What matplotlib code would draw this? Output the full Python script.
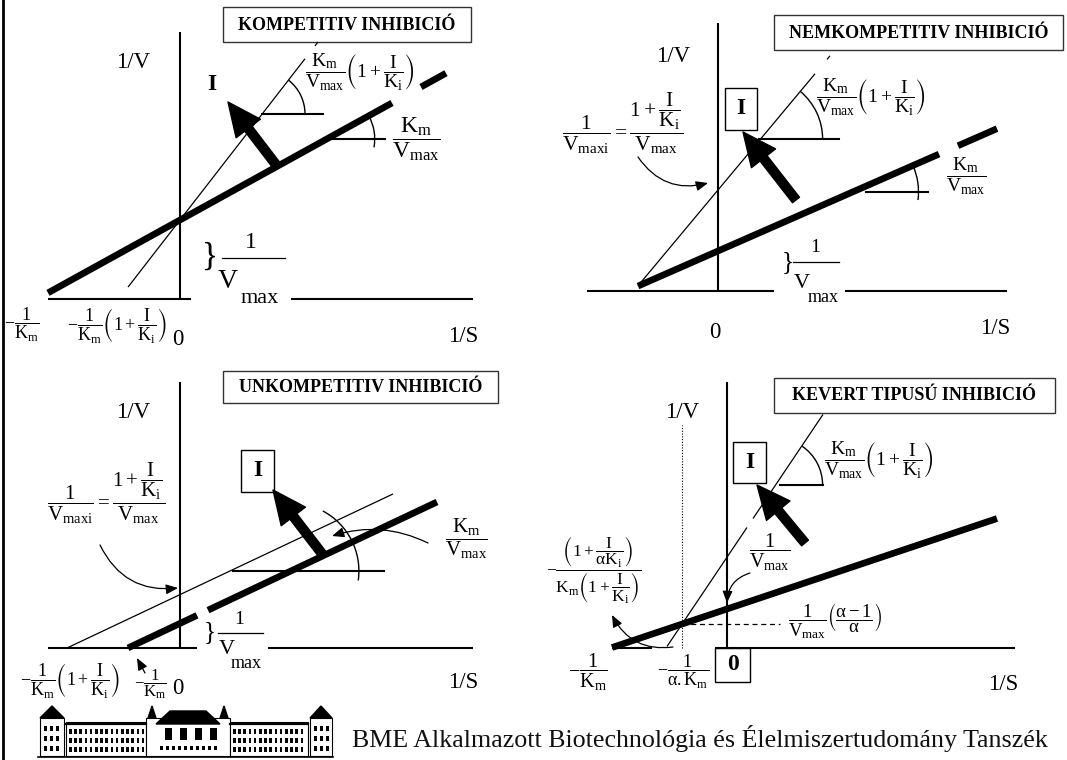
import numpy as np
import matplotlib
matplotlib.use("Agg")
import matplotlib.pyplot as plt
from matplotlib.patches import Rectangle, Arc, Polygon

plt.rcParams['font.family'] = ['Liberation Serif', 'DejaVu Serif']
plt.rcParams['mathtext.fontset'] = 'custom'
plt.rcParams['mathtext.rm'] = 'Liberation Serif'
plt.rcParams['mathtext.it'] = 'Liberation Serif:italic'
plt.rcParams['mathtext.bf'] = 'Liberation Serif:bold'
plt.rcParams['mathtext.fallback'] = 'stix'
plt.rcParams['mathtext.default'] = 'regular'

# ---------------- data ----------------
TITLES = ["KOMPETITIV INHIBICIÓ", "NEMKOMPETITIV INHIBICIÓ",
          "UNKOMPETITIV INHIBICIÓ", "KEVERT TIPUSÚ INHIBICIÓ"]
Y_LABEL = "1/V"
X_LABEL = "1/S"
FOOTER = "BME Alkalmazott Biotechnológia és Élelmiszertudomány Tanszék"

# Lineweaver-Burk lines: [uninhibited (thick), inhibited (thin)]
COMP_SLOPE = [0.552, 1.29]
COMP_ICPT = [0.79, 0.79]
NONCOMP_SLOPE = [0.4385, 1.198]
NONCOMP_ICPT = [0.40, 1.01]
UNCOMP_SLOPE = [0.4725, 0.4725]
UNCOMP_ICPT = [0.246, 0.534]
MIXED_SLOPE = [0.335, 1.487]
MIXED_ICPT = [0.39, 0.908]

# drawn 1/S ranges of each line (gaps where labels cover it)
COMP_SEGS = [[(-1.32, 2.12), (2.41, 2.66)], [(-0.52, 1.25), (1.35, 1.38)]]
NONCOMP_SEGS = [[(-0.80, 2.21), (2.40, 2.79)], [(-0.80, 0.97), (1.09, 1.12)]]
UNCOMP_SEGS = [[(-0.52, 0.17), (0.28, 2.57)], [(-1.13, 2.13)]]
MIXED_SEGS = [[(-1.15, 2.70)], [(-0.60, 0.20), (0.26, 0.96)]]

# ---------------- figure ----------------
W, H = 1067, 760
fig = plt.figure(figsize=(W / 100, H / 100), dpi=100)

THICK = 4.8
THIN = 0.9
AXW = 1.5


def panel(ox, oy):
    ax = fig.add_axes([0, 0, 1, 1])
    ax.set_xlim(-ox / 100, (W - ox) / 100)
    ax.set_ylim(-(H - oy) / 100, oy / 100)
    ax.axis('off')
    ax.patch.set_alpha(0)
    return ax


def T(ax, x, y, s, size=16.5, weight='normal', ha='center', va='center'):
    ax.text(x, y, s, fontsize=size, fontweight=weight, ha=ha, va=va, color='k')


def lines(ax, slopes, icpts, segs):
    for k, (m, b, sg) in enumerate(zip(slopes, icpts, segs)):
        for x0, x1 in sg:
            xs = np.array([x0, x1])
            ax.plot(xs, b + m * xs, color='k', lw=THICK if k == 0 else THIN,
                    solid_capstyle='butt')


def axes_lines(ax, ytop, xsegs):
    ax.plot([0, 0], [0, ytop], color='k', lw=AXW, solid_capstyle='butt')
    for x0, x1 in xsegs:
        ax.plot([x0, x1], [0, 0], color='k', lw=AXW, solid_capstyle='butt')


def title_box(ax, x0, x1, y0, y1, s):
    ax.add_patch(Rectangle((x0, y0), x1 - x0, y1 - y0, fill=False, ec='#333333', lw=1.0))
    T(ax, (x0 + x1) / 2, (y0 + y1) / 2 - 0.005, s, size=13, weight='bold')


def angle_marker(ax, cx, cy, hx0, hx1, r, t1, t2):
    ax.plot([hx0, hx1], [cy, cy], color='k', lw=1.5)
    ax.add_patch(Arc((cx, cy), 2 * r, 2 * r, theta1=t1, theta2=t2, lw=1.0, color='k'))


def big_arrow(ax, start, tip):
    ax.annotate('', xy=tip, xytext=start,
                arrowprops=dict(arrowstyle='simple,head_length=0.6,head_width=0.55,tail_width=0.16',
                                mutation_scale=40, fc='k', ec='k', shrinkA=0, shrinkB=0))


def curved_arrow(ax, start, end, rad):
    ax.annotate('', xy=end, xytext=start,
                arrowprops=dict(arrowstyle='-|>,head_length=0.6,head_width=0.25',
                                connectionstyle='arc3,rad=%s' % rad, lw=0.9,
                                color='k', shrinkA=0, shrinkB=0, mutation_scale=12))


def boxed(ax, x0, x1, y0, y1, s):
    ax.add_patch(Rectangle((x0, y0), x1 - x0, y1 - y0, fill=False, ec='k', lw=1.0))
    T(ax, (x0 + x1) / 2, (y0 + y1) / 2, s, size=17, weight='bold')


def brace_frac(ax, bx, by, bs, ox, oy, osz, b0, b1, by2, vx, vy, vs, mx, my, ms):
    T(ax, bx, by, "}", size=bs)
    T(ax, ox, oy, "1", size=osz)
    ax.plot([b0, b1], [by2, by2], color='k', lw=0.9)
    T(ax, vx, vy, "V", size=vs)
    T(ax, mx, my, "max", size=ms)


SLOPE_I = r"$\dfrac{K_m}{V_{max}}\left(1+\dfrac{I}{K_i}\right)$"
SLOPE_0 = r"$\dfrac{K_m}{V_{max}}$"
VMAXI = r"$\dfrac{1}{V_{maxi}}=\dfrac{1+\dfrac{I}{K_i}}{V_{max}}$"
NEG_KM = r"$-\dfrac{1}{K_m}$"
NEG_KM_I = r"$-\dfrac{1}{K_m}\left(1+\dfrac{I}{K_i}\right)$"

# ---------------- panel 1: competitive ----------------
a1 = panel(180, 299)
axes_lines(a1, 2.67, [(-1.32, 0.11), (1.11, 2.93)])
lines(a1, COMP_SLOPE, COMP_ICPT, COMP_SEGS)
angle_marker(a1, 0.82, 1.85, 0.82, 1.43, 0.43, 0, 52)
angle_marker(a1, 1.467, 1.60, 1.52, 2.05, 0.48, -10, 29)
big_arrow(a1, (0.97, 1.33), (0.48, 1.97))
T(a1, 0.32, 2.14, "I", size=17, weight='bold')
T(a1, -0.47, 2.36, Y_LABEL)
title_box(a1, 0.43, 2.91, 2.57, 2.92, TITLES[0])
T(a1, 1.80, 2.27, SLOPE_I, size=14)
T(a1, 2.36, 1.60, SLOPE_0, size=17)
brace_frac(a1, 0.30, 0.42, 24, 0.71, 0.57, 17, 0.42, 1.05, 0.41, 0.48, 0.17, 20, 0.80, 0.0, 16)
T(a1, -1.58, -0.26, NEG_KM, size=13)
T(a1, -0.63, -0.27, NEG_KM_I, size=13)
T(a1, -0.02, -0.41, "0")
T(a1, 2.83, -0.38, X_LABEL)

# ---------------- panel 2: noncompetitive ----------------
a2 = panel(718, 291)
axes_lines(a2, 2.68, [(-1.31, 0.56), (1.27, 2.89)])
lines(a2, NONCOMP_SLOPE, NONCOMP_ICPT, NONCOMP_SEGS)
angle_marker(a2, 0.426, 1.52, 0.41, 1.21, 0.62, 0, 50)
angle_marker(a2, 1.345, 0.99, 1.48, 2.10, 0.66, -7, 24)
big_arrow(a2, (0.78, 0.91), (0.25, 1.59))
boxed(a2, 0.07, 0.39, 1.61, 2.03, "I")
T(a2, -0.45, 2.34, Y_LABEL)
title_box(a2, 0.56, 3.45, 2.41, 2.76, TITLES[1])
T(a2, -0.95, 1.68, VMAXI, size=15.5)
curved_arrow(a2, (-0.80, 1.34), (-0.10, 1.08), 0.35)
T(a2, 1.53, 1.94, SLOPE_I, size=14)
T(a2, 2.48, 1.15, SLOPE_0, size=14)
brace_frac(a2, 0.70, 0.29, 18, 0.97, 0.43, 14, 0.75, 1.21, 0.29, 0.84, 0.08, 16, 1.05, -0.07, 13)
T(a2, -0.03, -0.41, "0")
T(a2, 2.77, -0.37, X_LABEL)

# ---------------- panel 3: uncompetitive ----------------
a3 = panel(180, 648)
axes_lines(a3, 2.66, [(-1.32, 0.17), (0.88, 2.93)])
lines(a3, UNCOMP_SLOPE, UNCOMP_ICPT, UNCOMP_SEGS)
angle_marker(a3, 1.109, 0.77, 0.53, 2.04, 0.68, -8, 62)
curved_arrow(a3, (2.48, 1.05), (1.52, 1.12), 0.2)
big_arrow(a3, (1.43, 0.93), (0.93, 1.58))
boxed(a3, 0.61, 0.94, 1.56, 1.98, "I")
T(a3, -0.47, 2.35, Y_LABEL)
title_box(a3, 0.43, 3.18, 2.45, 2.77, TITLES[2])
T(a3, -0.74, 1.55, VMAXI, size=15)
curved_arrow(a3, (-0.80, 1.03), (-0.02, 0.60), 0.35)
T(a3, 2.86, 1.09, SLOPE_0, size=15)
brace_frac(a3, 0.30, 0.16, 18, 0.59, 0.28, 14, 0.38, 0.83, 0.15, 0.47, -0.02, 16, 0.66, -0.15, 13)
T(a3, -1.10, -0.32, NEG_KM_I, size=13)
T(a3, -0.30, -0.36, NEG_KM, size=12)
curved_arrow(a3, (-0.35, -0.25), (-0.43, -0.10), 0.0)
T(a3, -0.02, -0.40, "0")
T(a3, 2.83, -0.35, X_LABEL)

# ---------------- panel 4: mixed ----------------
a4 = panel(727, 648)
axes_lines(a4, 2.66, [(-0.12, 2.88), (-1.15, -0.75)])
lines(a4, MIXED_SLOPE, MIXED_ICPT, MIXED_SEGS)
a4.plot([-0.45, -0.45], [0, 2.23], color='k', lw=0.8, ls=(0, (1, 1.5)))
a4.plot([-0.45, 0.53], [0.24, 0.24], color='k', lw=0.9, ls=(0, (4, 3)))
angle_marker(a4, 0.486, 1.63, 0.53, 0.96, 0.47, 0, 56)
big_arrow(a4, (0.78, 1.05), (0.30, 1.63))
boxed(a4, 0.06, 0.39, 1.65, 2.06, "I")
T(a4, -0.45, 2.35, Y_LABEL)
title_box(a4, 0.47, 3.28, 2.35, 2.70, TITLES[3])
T(a4, 1.52, 1.88, SLOPE_I, size=14)
T(a4, 0.43, 0.96, r"$\dfrac{1}{V_{max}}$", size=14.5)
curved_arrow(a4, (0.23, 0.75), (0.0, 0.45), 0.35)
T(a4, 1.08, 0.27, r"$\dfrac{1}{V_{max}}\left(\dfrac{\alpha-1}{\alpha}\right)$", size=13.5)
T(a4, -1.33, 0.78, r"$-\dfrac{\left(1+\dfrac{I}{\alpha K_i}\right)}{K_m\left(1+\dfrac{I}{K_i}\right)}$", size=12.5)
curved_arrow(a4, (-0.54, 0.01), (-1.15, 0.33), -0.35)
T(a4, -1.39, -0.24, NEG_KM, size=14.5)
T(a4, -0.44, -0.24, r"$-\dfrac{1}{\alpha .K_m}$", size=13)
a4.add_patch(Rectangle((-0.12, -0.34), 0.35, 0.34, fill=False, ec='k', lw=1.0))
T(a4, 0.055, -0.17, "0", size=17, weight='bold')
T(a4, 2.76, -0.37, X_LABEL)

# ---------------- footer / frame ----------------
f = fig.add_axes([0, 0, 1, 1])
f.set_xlim(0, W)
f.set_ylim(H, 0)
f.axis('off')
f.patch.set_alpha(0)
f.plot([3, 3], [0, H], color='k', lw=2.0)


def blk(x0, y0, x1, y1, fc='white'):
    f.add_patch(Rectangle((x0, y0), x1 - x0, y1 - y0, fc=fc, ec='k', lw=0.8))


# stylised university building logo
f.plot([38, 333], [757, 757], color='k', lw=1.2)
blk(40, 718, 64, 756)
f.add_patch(Polygon([(40, 718), (52, 706), (64, 718)], closed=True, fc='k', ec='k'))
blk(66, 722, 146, 756)
f.plot([66, 146], [724, 724], color='k', lw=1.6)
blk(146, 718, 230, 756)
f.add_patch(Polygon([(156, 724), (170, 711), (206, 711), (220, 724)], closed=True, fc='k', ec='k'))
f.add_patch(Polygon([(148, 718), (152, 706), (156, 718)], closed=True, fc='k', ec='k'))
f.add_patch(Polygon([(220, 718), (224, 706), (228, 718)], closed=True, fc='k', ec='k'))
blk(230, 722, 308, 756)
f.plot([230, 308], [724, 724], color='k', lw=1.6)
blk(310, 718, 332, 756)
f.add_patch(Polygon([(310, 718), (321, 706), (332, 718)], closed=True, fc='k', ec='k'))
for wx0, wx1 in [(69, 143), (233, 305)]:
    for wy in (731, 740, 749):
        for xx in np.arange(wx0, wx1, 5.2):
            f.add_patch(Rectangle((xx, wy - 2.5), 2.6, 5, fc='k', ec='none'))
for wy in (728, 738, 748):
    for xx in (44, 50, 56, 314, 320, 326):
        f.add_patch(Rectangle((xx, wy - 2.5), 3, 5, fc='k', ec='none'))
for xx in (165, 180, 195, 210):
    f.add_patch(Rectangle((xx, 728), 7, 12, fc='k', ec='none'))
for xx in np.arange(160, 220, 6):
    f.add_patch(Rectangle((xx, 746), 3, 4, fc='k', ec='none'))

f.text(352, 739, FOOTER, fontsize=18.7, ha='left', va='center', color='#111111')

fig.savefig("out.png", dpi=100, facecolor='white')
